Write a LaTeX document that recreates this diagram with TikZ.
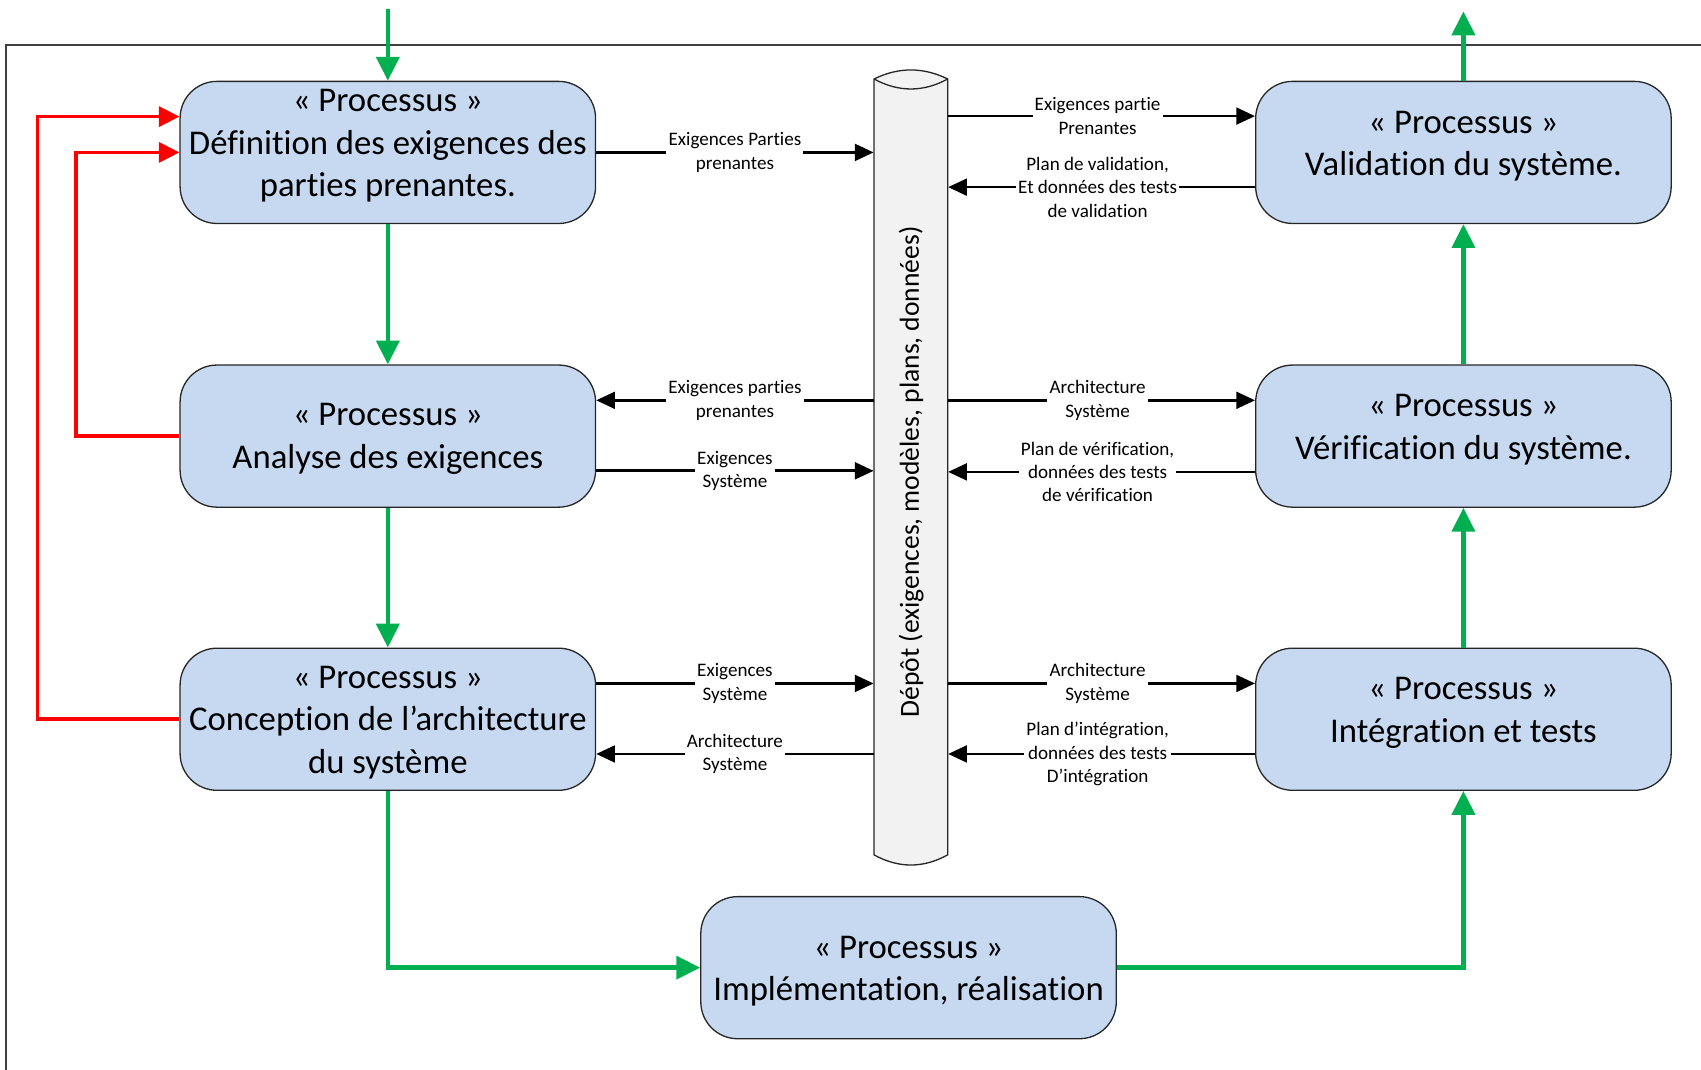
\documentclass[tikz,border=0pt]{standalone}
\usepackage{fontspec}
\setmainfont{Carlito}[Ligatures=NoCommon]
\usetikzlibrary{arrows.meta}
\definecolor{procblue}{HTML}{C6D9F1}
\definecolor{depotgray}{HTML}{F2F2F2}
\definecolor{flowgreen}{HTML}{00B050}
\definecolor{loopred}{HTML}{FF0000}

\begin{document}
\begin{tikzpicture}[x=0.5pt,y=-0.5pt,
  proc/.style={draw=black!85, line width=0.6pt, fill=procblue, rounded corners=17pt,
    minimum width=191.5pt, minimum height=65.5pt, inner sep=0pt},
  ptext/.style={align=center, font=\fontsize{16}{19.5}\selectfont, inner sep=0pt},
  lbl/.style={fill=white, align=center, font=\fontsize{8.8}{10.75}\selectfont,
    inner xsep=1pt, inner ysep=0.5pt},
  flow/.style={draw=flowgreen, line width=2.1pt, -{Triangle[length=11pt,width=10.5pt]}},
  loopback/.style={draw=loopred, line width=1.7pt, -{Triangle[length=9.5pt,width=9.2pt]}},
  data/.style={draw=black, line width=1.25pt, -{Triangle[length=8.6pt,width=7.7pt]}},
]
\useasboundingbox (0,0) rectangle (1568,986);

% outer frame (top and left edges)
\coordinate (fr1) at (5.5,986);
\coordinate (fr2) at (5.5,41.5);
\coordinate (fr3) at (1568,41.5);
\draw[black!75, line width=0.7pt] (fr1) -- (fr2) -- (fr3);

% process boxes
\node[proc] (L1) at (357.5,140.5) {};
\node[proc] (L2) at (357.5,402) {};
\node[proc] (L3) at (357.5,663) {};
\node[proc] (R1) at (1349,140.5) {};
\node[proc] (R2) at (1349,402) {};
\node[proc] (R3) at (1349,663) {};
\node[proc] (Impl) at (837.5,892) {};

\node[ptext] (L1t) at ([yshift=3pt]L1.center) {« Processus »\\Définition des exigences des\\parties prenantes.};
\node[ptext] (L2t) at ([yshift=-1.2pt]L2.center) {« Processus »\\Analyse des exigences};
\node[ptext] (L3t) at ([yshift=-1.5pt]L3.center) {« Processus »\\Conception de l’architecture\\du système};
\node[ptext] (R1t) at ([yshift=3pt]R1.center) {« Processus »\\Validation du système.};
\node[ptext] (R2t) at ([yshift=3pt]R2.center) {« Processus »\\Vérification du système.};
\node[ptext] (R3t) at ([yshift=3pt]R3.center) {« Processus »\\Intégration et tests};
\node[ptext] (Implt) at ([yshift=-1.5pt]Impl.center) {« Processus »\\Implémentation, réalisation};

% repository cylinder
\fill[depotgray] (805.7,72.8) -- (805.7,788)
  .. controls (828.3,800.5) and (851,800.5) .. (873.6,788) -- (873.6,72.8)
  .. controls (851,61.7) and (828.3,61.7) .. (805.7,72.8) -- cycle;
\draw[black!85, line width=0.6pt] (805.7,72.8) -- (805.7,788)
  .. controls (828.3,800.5) and (851,800.5) .. (873.6,788) -- (873.6,72.8)
  .. controls (851,61.7) and (828.3,61.7) .. (805.7,72.8) -- cycle;
\draw[black!85, line width=0.6pt] (805.7,72.8)
  .. controls (828.3,85.1) and (851,85.1) .. (873.6,72.8);
\node[minimum width=33.95pt, minimum height=366.45pt, inner sep=0pt] (cyl) at (839.65,431) {};
\node[rotate=90, inner sep=0pt, font=\fontsize{12.7}{15}\selectfont] (cylt) at (840,435)
  {Dépôt (exigences, modèles, plans, données)};

% attachment points of the data flows
\coordinate (L2a) at ([yshift=16.5pt]L2.east);
\coordinate (L2b) at ([yshift=-16pt]L2.east);
\coordinate (L3a) at ([yshift=16.5pt]L3.east);
\coordinate (L3b) at ([yshift=-16pt]L3.east);
\coordinate (R1a) at ([yshift=16.75pt]R1.west);
\coordinate (R1b) at ([yshift=-16pt]R1.west);
\coordinate (R2a) at ([yshift=16.5pt]R2.west);
\coordinate (R2b) at ([yshift=-16.5pt]R2.west);
\coordinate (R3a) at ([yshift=16.5pt]R3.west);
\coordinate (R3b) at ([yshift=-16pt]R3.west);

% data flows, left side
\draw[data] (L1.east) -- (L1.east -| cyl.west) node[lbl, midway] {Exigences Parties\\prenantes};
\draw[data] (L2a -| cyl.west) -- (L2a) node[lbl, midway] {Exigences parties\\prenantes};
\draw[data] (L2b) -- (L2b -| cyl.west) node[lbl, midway] {Exigences\\Système};
\draw[data] (L3a) -- (L3a -| cyl.west) node[lbl, midway] {Exigences\\Système};
\draw[data] (L3b -| cyl.west) -- (L3b) node[lbl, midway] {Architecture\\Système};

% data flows, right side
\draw[data] (R1a -| cyl.east) -- (R1a) node[lbl, pos=0.487] {Exigences partie\\Prenantes};
\draw[data] (R1b) -- (R1b -| cyl.east) node[lbl, pos=0.513] {Plan de validation,\\Et données des tests\\de validation};
\draw[data] (R2a -| cyl.east) -- (R2a) node[lbl, pos=0.487] {Architecture\\Système};
\draw[data] (R2b) -- (R2b -| cyl.east) node[lbl, pos=0.513] {Plan de vérification,\\données des tests\\de vérification};
\draw[data] (R3a -| cyl.east) -- (R3a) node[lbl, pos=0.487] {Architecture\\Système};
\draw[data] (R3b) -- (R3b -| cyl.east) node[lbl, pos=0.513] {Plan d’intégration,\\données des tests\\D’intégration};

% main process flow
\coordinate (gin) at (357.5,8);
\coordinate (gout) at (1349,10.5);
\draw[flow] (gin) -- (L1.north);
\draw[flow] (L1.south) -- (L2.north);
\draw[flow] (L2.south) -- (L3.north);
\draw[flow] (L3.south) |- (Impl.west);
\draw[flow] (Impl.east) -| (R3.south);
\draw[flow] (R3.north) -- (R2.south);
\draw[flow] (R2.north) -- (R1.south);
\draw[flow] (R1.north) -- (gout);

% feedback loops
\coordinate (La) at ([yshift=16.5pt]L1.west);
\coordinate (rx1) at (34.7,0);
\coordinate (rx2) at (70,0);
\draw[loopback] (L3.west) -- (L3.west -| rx1) |- (La);
\draw[loopback] (L2.west) -- (L2.west -| rx2) |- (L1.west);
\end{tikzpicture}
\end{document}
